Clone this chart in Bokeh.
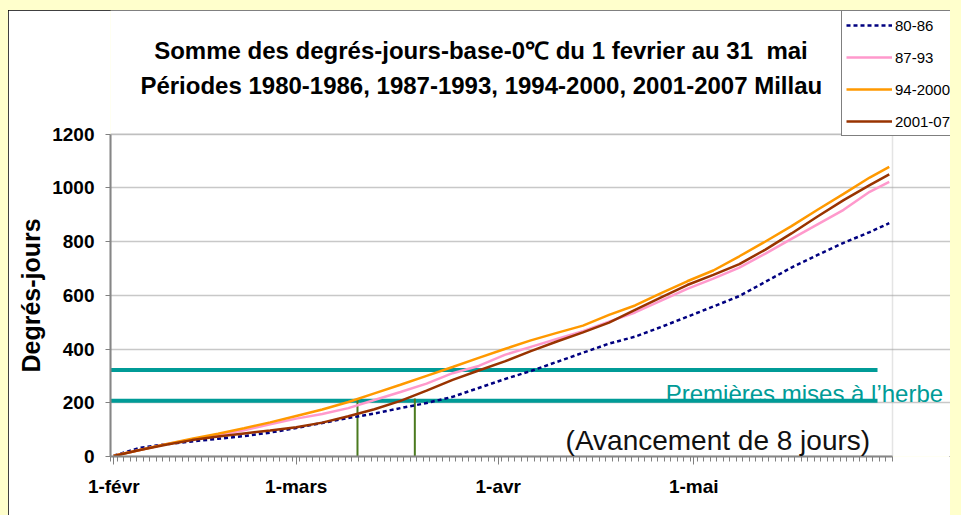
from bokeh.plotting import figure
from bokeh.models import Legend, LegendItem, Label, FixedTicker, Range1d, BoxAnnotation, Title
from bokeh.layouts import column
from bokeh.embed import file_html
from bokeh.resources import INLINE

# ---- data (day index 0 = 1 février) ----
days = [0, 4, 8, 12, 16, 20, 24, 28, 32, 36, 40, 44, 48, 52, 56, 60, 64, 68, 72, 76,
        80, 84, 88, 92, 96, 100, 104, 108, 112, 116, 119]
dj_80_86 = [3, 32, 46, 56, 66, 76, 89, 106, 125, 143, 160, 180, 199, 222, 255, 288, 318, 352, 386, 420,
            446, 482, 520, 558, 597, 650, 703, 750, 795, 835, 868]
dj_87_93 = [3, 24, 46, 63, 80, 98, 120, 141, 158, 180, 210, 240, 271, 310, 337, 378, 408, 437, 466, 502,
            536, 580, 624, 662, 703, 755, 810, 864, 918, 985, 1022]
dj_94_2000 = [3, 24, 46, 66, 85, 105, 127, 151, 175, 203, 235, 267, 300, 333, 367, 400, 432, 460, 487, 527,
              562, 608, 652, 692, 745, 800, 857, 918, 977, 1038, 1078]
dj_2001_07 = [2, 24, 44, 61, 74, 86, 97, 109, 126, 150, 176, 207, 245, 285, 320, 354, 392, 428, 462, 498,
              546, 592, 638, 676, 716, 770, 830, 893, 954, 1010, 1050]
series_names = ["80-86", "87-93", "94-2000", "2001-07"]

month_ticks = [0, 28, 59, 89]
month_labels = ["1-févr", "1-mars", "1-avr", "1-mai"]
y_ticks = [0, 200, 400, 600, 800, 1000, 1200]
n_days = 120
y_max = 1200

seuils = [322, 207]                 # horizontal threshold lines
seuil_debut, seuil_fin = -1.0, 117.2
jours_mise_herbe = [37.4, 46.2]      # vertical markers
jours_haut = 216

title_1 = "Somme des degrés-jours-base-0℃ du 1 fevrier au 31\u00a0 mai"
title_2 = "Périodes 1980-1986, 1987-1993, 1994-2000, 2001-2007 Millau"
y_title = "Degrés-jours"
txt_herbe = "Premières mises à l\u2019herbe"
txt_avance = "(Avancement de 8 jours)"

FONT = "Liberation Sans"
TEAL = "#009B97"

# plot-area geometry (pixels) -> ranges extended so that titles & legend sit inside the frame
AREA_W, AREA_H = 782, 322.5          # size of the 0..1200 x 1-févr..31-mai plot area
EXTRA_RIGHT, EXTRA_TOP = 58, 123.5   # frame space beyond that area (legend / titles)
x_lo = -0.5
x_hi_area = n_days - 0.5
x_hi = x_hi_area + EXTRA_RIGHT * n_days / AREA_W
y_hi = y_max + EXTRA_TOP * y_max / AREA_H

p = figure(width=942, height=505, output_backend="svg", toolbar_location=None,
           x_range=Range1d(x_lo, x_hi), y_range=Range1d(0, y_hi),
           min_border_left=102, min_border_right=0, min_border_top=0, min_border_bottom=59)
p.border_fill_color = "white"
p.background_fill_color = "white"
p.outline_line_color = None
p.styles = {"outline": "1px solid #000000", "outline-offset": "-1px"}

# grid
p.xgrid.visible = False
p.ygrid.ticker = FixedTicker(ticks=y_ticks)
p.ygrid.bounds = (x_lo, x_hi_area)
p.ygrid.grid_line_color = "#c8c8c8"
p.ygrid.grid_line_width = 1.5

# plot area border
p.add_layout(BoxAnnotation(left=x_lo, right=x_hi_area, bottom=0, top=y_max,
                           fill_alpha=0, line_color="#a6a6a6", line_width=1.5))

# axes
p.yaxis.bounds = (0, y_max)
p.yaxis.ticker = FixedTicker(ticks=y_ticks)
p.yaxis.axis_line_color = "#808080"
p.yaxis.axis_line_width = 2
p.yaxis.major_tick_line_color = "#808080"
p.yaxis.major_tick_out = 5
p.yaxis.major_tick_in = 0
p.yaxis.minor_tick_line_color = None
p.yaxis.major_label_text_font = FONT
p.yaxis.major_label_text_font_size = "19px"
p.yaxis.major_label_text_font_style = "bold"
p.yaxis.major_label_text_color = "black"
p.yaxis.major_label_standoff = 11

# y-axis title, centred on the 0..1200 plot area (not on the extended frame)
p.add_layout(Title(text=y_title, align="left", offset=84, vertical_align="bottom", standoff=10,
                   text_font=FONT, text_font_size="25px", text_font_style="bold",
                   text_color="black"), "left")

p.xaxis.bounds = (x_lo, x_hi_area)
p.xaxis.ticker = FixedTicker(ticks=month_ticks, minor_ticks=[k - 0.5 for k in range(n_days + 1)])
p.xaxis.major_label_overrides = {t: l for t, l in zip(month_ticks, month_labels)}
p.xaxis.axis_line_color = "#808080"
p.xaxis.axis_line_width = 2
p.xaxis.major_tick_line_color = "#808080"
p.xaxis.minor_tick_line_color = "#808080"
p.xaxis.major_tick_out = 8
p.xaxis.major_tick_in = 0
p.xaxis.minor_tick_out = 5
p.xaxis.minor_tick_in = 0
p.xaxis.major_label_text_font = FONT
p.xaxis.major_label_text_font_size = "19px"
p.xaxis.major_label_text_font_style = "bold"
p.xaxis.major_label_text_color = "black"
p.xaxis.major_label_standoff = 11

# threshold lines and markers
p.segment(x0=[seuil_debut] * len(seuils), y0=seuils, x1=[seuil_fin] * len(seuils), y1=seuils,
          line_color=TEAL, line_width=4)
p.segment(x0=jours_mise_herbe, y0=[0] * len(jours_mise_herbe), x1=jours_mise_herbe,
          y1=[jours_haut] * len(jours_mise_herbe), line_color="#4B7A1F", line_width=2)

# series
r1 = p.line(days, dj_80_86, line_color="#000080", line_width=2.5, line_dash="4 3")
r2 = p.line(days, dj_87_93, line_color="#FF99CC", line_width=2.5)
r3 = p.line(days, dj_94_2000, line_color="#FF9900", line_width=2.5)
r4 = p.line(days, dj_2001_07, line_color="#993300", line_width=2.5)

legend = Legend(items=[LegendItem(label=n, renderers=[r]) for n, r in zip(series_names, [r1, r2, r3, r4])],
                location=(731, 320))
legend.label_text_font = FONT
legend.label_text_font_size = "15px"
legend.label_text_color = "black"
legend.glyph_width = 46
legend.glyph_height = 20
legend.label_height = 20
legend.label_standoff = 3
legend.spacing = 12
legend.padding = 4
legend.margin = 0
legend.border_line_color = "black"
legend.border_line_width = 1
legend.background_fill_color = "white"
legend.background_fill_alpha = 1
p.add_layout(legend)

# texts
p.add_layout(Label(x=56.35, y=1509, text=title_1, text_align="center", text_baseline="alphabetic",
                   text_font=FONT, text_font_size="24px", text_font_style="bold", text_color="black"))
p.add_layout(Label(x=56.4, y=1380, text=title_2, text_align="center", text_baseline="alphabetic",
                   text_font=FONT, text_font_size="24px", text_font_style="bold", text_color="black"))
p.add_layout(Label(x=84.7, y=233, text=txt_herbe, text_align="left", text_baseline="alphabetic",
                   text_font=FONT, text_font_size="24px", text_color=TEAL))
p.add_layout(Label(x=92.7, y=59, text=txt_avance, text_align="center", text_baseline="alphabetic",
                   text_font=FONT, text_font_size="28px", text_color="#111111"))

page = column(p, styles={"background-color": "#FFFFCC", "padding": "10px 11px 0px 8px"})

open("out.html", "w").write(file_html(page, INLINE))
